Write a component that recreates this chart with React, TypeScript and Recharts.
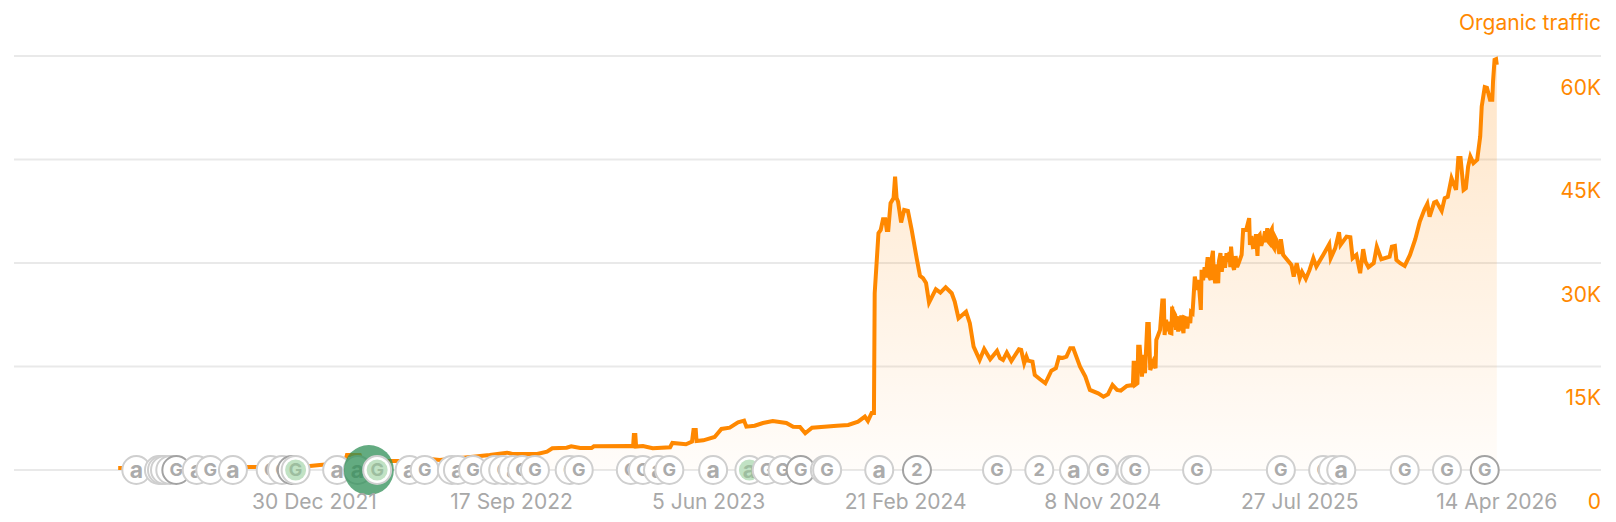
/**
 * Organic traffic history: five years of daily traffic with update markers on the baseline.
 */

import { Area, CartesianGrid, ComposedChart, Scatter, XAxis, YAxis } from 'recharts';

// days counted from 14 Apr 2021
const DAYS = [
  0, 108, 175, 241, 267, 300, 303, 320, 323, 367, 386, 413, 426, 470, 492, 515, 522, 555, 568, 575,
  594, 600, 612, 627, 630, 678, 682, 683, 685, 686, 695, 708, 731, 734, 752, 760, 762, 765, 766, 775,
  790, 799, 810, 821, 829, 832, 843, 854, 867, 885, 894, 903, 910, 919, 952, 967, 980, 989, 993, 998,
  1001, 1002, 1007, 1010, 1013, 1016, 1018, 1020, 1023, 1027, 1029, 1031, 1033, 1037, 1041, 1046, 1051, 1058, 1062, 1066,
  1070, 1074, 1077, 1083, 1089, 1096, 1104, 1108, 1113, 1123, 1128, 1133, 1141, 1147, 1155, 1164, 1168, 1172, 1177, 1183,
  1193, 1196, 1200, 1203, 1205, 1211, 1214, 1221, 1228, 1236, 1242, 1246, 1251, 1256, 1261, 1265, 1274, 1281, 1287, 1298,
  1305, 1311, 1317, 1323, 1328, 1336, 1344, 1345, 1346, 1347, 1350, 1351, 1353, 1356, 1358, 1360, 1363, 1365, 1367, 1371,
  1374, 1375, 1380, 1383, 1385, 1386,
  1388, 1389, 1391, 1393, 1395, 1396, 1397, 1398, 1400, 1401, 1402, 1404, 1406, 1407, 1408, 1410, 1411, 1412, 1414, 1416, 1418, 1420, 1421, 1423,
  1426, 1429, 1431, 1434,
  1435, 1437, 1439, 1441, 1442, 1443, 1445, 1447, 1448, 1450, 1451, 1453, 1455, 1457, 1458, 1460, 1461, 1462, 1464, 1466, 1468, 1470, 1472, 1473, 1474, 1476, 1478, 1480, 1482, 1484,
  1488, 1490, 1494, 1498,
  1499, 1501, 1503, 1506, 1507, 1509, 1510, 1512, 1514, 1515, 1517, 1519, 1520, 1522, 1524, 1525, 1526, 1528, 1529, 1531, 1532, 1534,
  1538, 1540, 1543, 1554, 1557, 1561, 1565, 1568, 1573, 1578, 1583,
  1587, 1596, 1604, 1606, 1612, 1617, 1619, 1627, 1632, 1635, 1640, 1645, 1649, 1652, 1656, 1663, 1667, 1673, 1684, 1687,
  1691, 1693, 1698, 1704, 1711, 1718, 1724, 1730, 1734, 1737, 1743, 1746, 1753, 1757, 1761, 1766, 1772, 1775, 1778, 1782,
  1785, 1788, 1791, 1795, 1800, 1804, 1806, 1810, 1813, 1817, 1820, 1821, 1823, 1825, 1826,
];

const TRAFFIC = [
  290, 290, 435, 435, 725, 1015, 2175, 2175, 1305, 1305, 1305, 1595, 1450, 1930, 2175, 2510, 2320, 2320, 2650, 3145,
  3235, 3435, 3190, 3190, 3435, 3480, 3435, 5075, 5075, 3405, 3480, 3145, 3290, 3915, 3725, 4100, 5800, 5800, 4205, 4305,
  4785, 5945, 6130, 6915, 7150, 6280, 6420, 6815, 7105, 6815, 6280, 6235, 5320, 6130, 6420, 6525, 7000, 7730, 7105, 8265,
  8265, 25620, 34320, 34800, 36350, 36350, 34800, 34800, 38670, 39400, 42530, 39440, 38860, 35860, 37700, 37555, 34800, 30450, 28130, 27800,
  27115, 24260, 24900, 26200, 25710, 26490, 25620, 24400, 22000, 22950, 21270, 17880, 15950, 17545, 16050, 17255, 16200, 15950, 17010, 15800,
  17500, 17400, 15470, 16430, 15850, 15700, 13775, 13150, 12570, 14400, 14750, 16340, 16240, 16430, 17650, 17650, 14980, 13530, 11600, 11120,
  10630, 10980, 12325, 11600, 11500, 12180, 12325, 15560, 15560, 12325, 12570, 17880, 17880, 13530, 16675, 14020, 21170, 21170, 14500, 15700,
  14750, 18850, 20300, 24550, 24550, 19575,
  21800, 20100, 21500, 19900, 19820, 23680, 20700, 22900, 22475, 20300, 22300, 20050, 22230, 20200, 22400, 20400, 19820, 22100, 22000, 20500, 22200, 21270, 22900, 22720,
  28030, 26100, 27550, 23200,
  29000, 27500, 29400, 27900, 29725, 30840, 28000, 27550, 30400, 31755, 28500, 27070, 29800, 27070, 30300, 31420, 29000, 29000, 31000, 29300, 31420, 30160, 31600, 29400, 32380, 29800, 29000, 31000, 29400, 29970,
  31175, 34800, 34800, 36500,
  32625, 33900, 32300, 32380, 34200, 31030, 33800, 34075, 32500, 32915, 33350, 34600, 33000, 35050, 33000, 32870, 34500, 34900, 32500, 32150, 33800, 33350,
  31320, 33450, 31175, 29725, 28030, 29970, 27800, 28710, 27695, 29000, 30700,
  29480, 31175, 32730, 30700, 32150, 34470, 32625, 33830, 33740, 30700, 31175, 28520, 32000, 30200, 29390, 29970, 32380, 30550, 30930, 32380,
  32480, 30450, 29970, 29580, 31175, 33450, 36000, 37700, 38570, 36730, 38760, 38900, 37555, 39400, 39585, 42300, 40600, 45200, 45200, 40600,
  40850, 43980, 45430, 44470, 44950, 48330, 52680, 55490, 55390, 53650, 53650, 56300, 59450, 59550, 58725,
];

const X_TICKS = [260, 521, 782, 1043, 1304, 1565, 1826];
const X_LABELS = ['30 Dec 2021', '17 Sep 2022', '5 Jun 2023', '21 Feb 2024', '8 Nov 2024', '27 Jul 2025', '14 Apr 2026'];
const Y_TICKS = [0, 15000, 30000, 45000, 60000];
const Y_LABELS = ['0', '15K', '30K', '45K', '60K'];

const MARKER_DAYS = [
  24, 54, 58, 62, 69, 77, 104, 122, 152, 202, 217, 230, 235, 290, 317, 332, 343, 386, 406, 442,
  450, 470, 499, 510, 523, 535, 552, 598, 610, 679, 695, 715, 730, 788, 836, 859, 880, 904, 936, 939,
  1008, 1058, 1164, 1220, 1266, 1304, 1342, 1347, 1429, 1540, 1596, 1609, 1620, 1704, 1760, 1810,
];
const MARKER_GLYPHS = [
  'a', 'G', 'G', 'G', 'G', 'G', 'a', 'G', 'a', 'G', 'G', 'G', 'G', 'a', 'a', '', 'G', 'a', 'G', 'a',
  'a', 'G', 'G', 'G', 'a', 'G', 'G', 'G', 'G', 'G', 'G', 'a', 'G', 'a', 'a', 'G', 'G', 'G', 'G', 'G',
  'a', '2', 'G', '2', 'a', 'G', 'G', 'G', 'G', 'G', 'G', 'G', 'a', 'G', 'G', 'G',
];
const MARKER_TONES = [
  'plain', 'plain', 'plain', 'plain', 'plain', 'dark', 'plain', 'plain', 'plain', 'plain', 'plain', 'dark', 'green', 'plain', 'plain', 'halo', 'green', 'plain', 'plain', 'plain',
  'plain', 'plain', 'plain', 'plain', 'plain', 'plain', 'plain', 'plain', 'plain', 'plain', 'plain', 'plain', 'plain', 'plain', 'green', 'plain', 'plain', 'dark', 'plain', 'plain',
  'plain', 'dark', 'plain', 'plain', 'plain', 'plain', 'plain', 'plain', 'plain', 'plain', 'plain', 'plain', 'plain', 'plain', 'plain', 'dark',
];

const rows = DAYS.map((day, i) => ({ day, traffic: TRAFFIC[i] }));
const markers = MARKER_DAYS.map((day, i) => ({
  day,
  level: 0,
  glyph: MARKER_GLYPHS[i],
  tone: MARKER_TONES[i],
}));

const ORANGE = '#ff8800';
const FONT = 'Inter, sans-serif';

function MarkerShape({ cx, cy, glyph, tone }: any) {
  if (tone === 'halo') {
    return <circle cx={cx} cy={cy} r={25} fill="#2f8f57" fillOpacity={0.75} />;
  }
  const green = tone === 'green';
  return (
    <g>
      <circle
        cx={cx}
        cy={cy}
        r={14}
        fill="#fff"
        stroke={tone === 'dark' ? '#a3a3a3' : '#cfcfcf'}
        strokeWidth={2}
      />
      {green && <circle cx={cx} cy={cy} r={10.5} fill="#c1e2c4" />}
      <text
        x={cx}
        y={cy}
        dy="0.36em"
        textAnchor="middle"
        fontFamily={FONT}
        fontSize={glyph === 'a' ? 23 : 18}
        fontWeight={700}
        fill={green ? '#9dbd9f' : '#ababab'}
      >
        {glyph}
      </text>
    </g>
  );
}

function YTick({ x, y, payload }: any) {
  return (
    <text
      x={x}
      y={y + 31}
      dy="0.36em"
      textAnchor="end"
      fontFamily={FONT}
      fontSize={21}
      fill={ORANGE}
    >
      {Y_LABELS[Y_TICKS.indexOf(payload.value)]}
    </text>
  );
}

export default function App() {
  return (
    <div style={{ position: 'absolute', left: 0, top: 0, width: 1616, height: 522, background: '#fff' }}>
      <ComposedChart
        width={1616}
        height={522}
        data={rows}
        margin={{ top: 56, right: 14, bottom: 0, left: 14 }}
      >
        <defs>
          <linearGradient id="trafficFill" x1="0" y1="0" x2="0" y2="1">
            <stop offset="0%" stopColor={ORANGE} stopOpacity={0.22} />
            <stop offset="100%" stopColor={ORANGE} stopOpacity={0.02} />
          </linearGradient>
        </defs>
        <CartesianGrid horizontal vertical={false} stroke="#e9e9e9" strokeWidth={2} />
        <XAxis
          dataKey="day"
          type="number"
          domain={[-138, 1964]}
          ticks={X_TICKS}
          interval={0}
          height={52}
          axisLine={false}
          tickLine={false}
          tickMargin={18}
          tickFormatter={(v: number) => X_LABELS[X_TICKS.indexOf(v)]}
          tick={{ fill: '#a8a8a8', fontSize: 21, fontFamily: FONT }}
        />
        <YAxis
          orientation="right"
          width={1}
          domain={[0, 60000]}
          ticks={Y_TICKS}
          interval={0}
          axisLine={false}
          tickLine={false}
          tickSize={0}
          tickMargin={0}
          tick={(props: any) => <YTick {...props} />}
        />
        <Area
          type="linear"
          dataKey="traffic"
          stroke={ORANGE}
          strokeWidth={4}
          fill="url(#trafficFill)"
          fillOpacity={1}
          dot={false}
          activeDot={false}
          isAnimationActive={false}
        />
        <Scatter data={markers} dataKey="level" shape={<MarkerShape />} isAnimationActive={false} />
      </ComposedChart>
      <div
        style={{
          position: 'absolute',
          top: 10,
          right: 15,
          color: ORANGE,
          fontFamily: FONT,
          fontSize: 21,
          lineHeight: '26px',
        }}
      >
        Organic traffic
      </div>
    </div>
  );
}
